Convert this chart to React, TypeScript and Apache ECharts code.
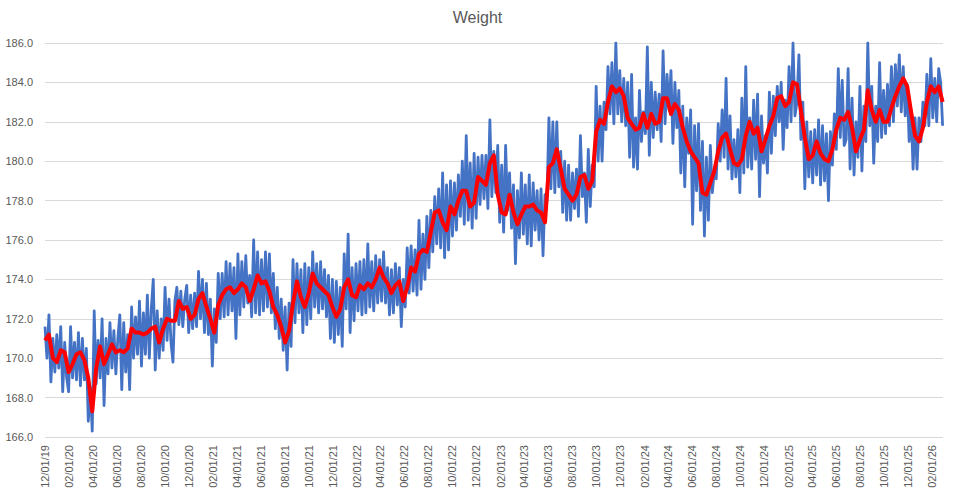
import React, { useEffect, useRef } from "react";
import * as echarts from "echarts";

// Axis: one category per day, 12/01/19 .. 02/28/26
const AXIS_START_UTC = Date.UTC(2019, 11, 1);
const AXIS_DAYS = 2282;
const BLUE_STEP_DAYS = 5;
const RED_STEP_DAYS = 10;
const Y_MIN = 166;
const Y_MAX = 186;
const Y_INTERVAL = 2;

// Daily weight, read every 5 days from 12/01/19
const blueValues = [
  171.6, 170.0, 172.2, 168.8, 171.0, 169.3, 171.2, 169.5, 171.6, 168.3,
  170.8, 169.0, 168.3, 171.6, 169.0, 170.8, 168.9, 171.3, 168.6, 171.0,
  168.9, 170.5, 166.8, 168.5, 166.3, 172.4, 168.7, 170.9, 169.0, 172.0,
  167.6, 171.0, 169.2, 171.8, 169.5, 171.4, 169.2, 171.0, 172.2, 168.4,
  171.8, 169.3, 171.2, 168.4, 172.6, 170.0, 172.1, 170.2, 172.9, 169.6,
  172.3, 170.2, 173.2, 170.0, 172.5, 174.0, 169.4, 172.4, 170.0, 172.0,
  170.4, 173.6, 170.9, 173.0, 170.8, 169.8, 172.9, 173.6, 171.7, 173.4,
  171.6, 173.0, 173.7, 171.3, 173.2, 171.5, 173.3, 171.6, 174.4, 172.0,
  174.0, 171.3, 173.8, 171.2, 173.0, 169.6, 172.5, 170.8, 174.3, 172.0,
  174.3, 172.1, 174.9, 172.2, 174.8, 172.4, 174.6, 171.0, 175.3, 172.2,
  174.9, 172.6, 175.2, 172.8, 174.2, 172.1, 176.0, 172.3, 175.4, 172.2,
  175.0, 172.4, 175.4, 172.6, 175.3, 172.3, 174.3, 171.5, 173.6, 171.0,
  173.0, 170.4, 172.6, 169.4, 172.8, 170.6, 175.0, 171.8, 174.8, 172.3,
  174.5, 171.3, 174.8, 171.7, 174.6, 172.0, 175.4, 172.6, 174.8, 172.3,
  174.9, 172.5, 174.5, 172.1, 174.2, 171.0, 174.0, 170.8, 173.9, 171.2,
  173.6, 170.6, 175.3, 172.5, 176.3, 171.3, 174.6, 171.9, 174.8, 172.4,
  174.9, 172.2, 175.0, 172.3, 175.8, 172.6, 174.9, 172.4, 175.2, 172.8,
  175.0, 172.9, 175.4, 172.8, 174.6, 172.2, 174.5, 172.3, 174.8, 172.7,
  174.6, 171.6, 174.0, 172.6, 175.6, 173.3, 175.7, 173.4, 175.5, 173.2,
  177.0, 173.5, 176.3, 174.0, 177.2, 174.6, 177.5, 175.4, 178.2, 175.8,
  178.6, 175.6, 179.4, 175.1, 178.8, 175.5, 179.0, 176.2, 178.9, 176.5,
  179.3, 177.2, 180.0, 176.8, 181.3, 177.0, 179.9, 176.6, 180.4, 177.1,
  180.2, 177.8, 180.3, 178.1, 180.3, 177.6, 182.1, 178.2, 180.5, 178.4,
  180.8, 176.9, 179.8, 176.4, 180.8, 177.5, 179.4, 176.6, 178.8, 174.8,
  178.5, 176.1, 179.4, 176.3, 178.8, 175.8, 179.3, 175.7, 178.9, 176.5,
  178.5, 176.0, 178.6, 175.2, 178.3, 178.0, 182.2, 178.6, 182.0, 178.4,
  182.0, 178.7, 180.5, 177.4, 180.0, 177.0, 179.8, 177.0, 179.4, 177.6,
  179.6, 177.2, 181.3, 178.2, 179.4, 176.9, 180.6, 177.7, 179.8, 178.7,
  183.8, 180.0, 182.8, 180.0, 183.0, 181.6, 184.8, 182.4, 185.0, 181.9,
  186.0, 182.4, 184.6, 182.0, 184.2, 181.8, 184.0, 180.2, 184.4, 179.7,
  182.2, 179.6, 183.6, 181.0, 182.5, 181.4, 185.8, 180.3, 184.0, 181.2,
  183.5, 181.6, 183.4, 181.0, 185.6, 181.9, 184.4, 182.6, 184.6, 180.9,
  184.0, 181.7, 183.6, 179.4, 182.8, 178.7, 182.2, 180.4, 182.6, 176.8,
  181.8, 178.5, 181.9, 177.5, 181.0, 176.2, 180.2, 177.0, 180.8, 178.4,
  179.5, 179.1, 181.9, 180.0, 182.6, 180.2, 184.2, 179.6, 182.3, 179.1,
  181.1, 179.2, 181.6, 178.4, 183.2, 179.4, 184.8, 179.7, 182.2, 179.6,
  183.1, 180.1, 183.4, 178.2, 182.3, 179.9, 181.3, 179.4, 183.5, 180.4,
  183.3, 181.3, 183.8, 182.0, 184.0, 180.6, 183.1, 181.7, 184.8, 182.0,
  186.0, 182.3, 183.0, 185.4, 181.1, 183.0, 178.6, 182.0, 179.2, 181.5,
  178.9, 181.6, 179.3, 182.1, 178.8, 181.8, 179.0, 181.4, 178.0, 181.5,
  179.8, 182.4, 180.6, 184.7, 181.2, 184.1, 180.8, 181.1, 184.7, 179.6,
  183.2, 179.3, 182.0, 180.2, 183.8, 179.5, 182.8, 181.0, 186.0, 181.8,
  183.8, 179.9, 182.8, 181.0, 185.0, 181.2, 183.6, 181.4, 183.9, 181.8,
  184.8, 182.0, 184.9, 182.8, 185.4, 182.5, 184.8, 182.3, 183.9, 181.0,
  182.6, 179.6, 182.2, 179.6, 182.2, 181.0, 183.0, 181.8, 184.4, 181.8,
  185.2, 182.2, 184.2, 182.0, 184.7, 184.0, 181.8,
];

// Moving average, read every 10 days from 12/01/19
const redValues = [
  170.9, 171.2, 170.0, 169.8, 170.4, 170.3, 169.3, 169.7, 170.2, 170.3,
  169.9, 169.0, 167.3, 169.5, 170.6, 169.7, 170.2, 170.7, 170.3, 170.4,
  170.3, 170.5, 171.5, 171.3, 171.3, 171.2, 171.3, 171.5, 171.6, 170.8,
  171.5, 172.0, 171.9, 171.9, 172.9, 172.5, 172.6, 172.0, 172.2, 173.0,
  173.3, 172.6, 172.0, 171.3, 172.7, 173.2, 173.5, 173.6, 173.3, 173.5,
  173.8, 173.6, 172.9, 173.5, 174.2, 173.8, 173.9, 173.4, 172.6, 172.2,
  171.6, 170.8, 171.4, 172.8, 173.9, 173.1, 172.6, 173.3, 174.3, 173.8,
  173.6, 173.4, 173.2, 172.6, 172.1, 172.5, 173.6, 174.0, 173.2, 173.1,
  173.7, 173.5, 173.8, 173.6, 174.0, 174.6, 174.1, 173.8, 173.3, 173.7,
  173.9, 172.9, 173.6, 174.6, 174.4, 175.3, 175.5, 175.4, 176.4, 177.4,
  177.5, 176.9, 176.5, 177.7, 177.3, 178.0, 178.5, 178.5, 177.7, 177.9,
  179.2, 179.0, 178.8, 179.9, 180.3, 178.3, 177.4, 177.3, 178.3, 177.4,
  176.8, 177.3, 177.7, 177.7, 177.8, 177.5, 177.4, 176.9, 179.7, 179.9,
  180.6, 179.6, 178.6, 178.3, 178.0, 178.3, 179.2, 179.3, 178.6, 179.0,
  181.5, 182.1, 181.9, 183.0, 183.8, 183.5, 183.7, 183.3, 182.2, 181.9,
  181.6, 181.7, 182.4, 181.7, 182.4, 181.9, 182.0, 183.2, 183.2, 182.4,
  182.9, 182.6, 181.7, 181.0, 180.5, 180.2, 179.9, 178.4, 178.3, 178.9,
  179.5, 180.5, 181.2, 181.4, 180.6, 179.9, 179.8, 180.1, 181.3, 182.0,
  181.4, 181.7, 180.5, 181.1, 181.8, 182.3, 183.2, 183.3, 182.8, 183.0,
  184.0, 183.9, 182.6, 181.2, 180.1, 180.3, 181.0, 180.4, 180.1, 180.0,
  180.6, 181.6, 182.2, 182.1, 182.5, 181.7, 180.5, 181.1, 181.6, 183.6,
  182.6, 182.0, 182.6, 182.0, 182.0, 182.7, 183.3, 183.8, 184.2, 183.8,
  182.5, 181.3, 181.0, 181.7, 183.0, 183.8, 183.5, 183.8, 183.0,
];

function fmtDate(t: number): string {
  const d = new Date(t);
  const mm = String(d.getUTCMonth() + 1).padStart(2, "0");
  const dd = String(d.getUTCDate()).padStart(2, "0");
  const yy = String(d.getUTCFullYear() % 100).padStart(2, "0");
  return `${mm}/${dd}/${yy}`;
}

export default function App() {
  const ref = useRef<HTMLDivElement>(null);

  useEffect(() => {
    if (!ref.current) return;
    const chart = echarts.init(ref.current, null, { renderer: "svg" });

    const dates: string[] = [];
    for (let i = 0; i < AXIS_DAYS; i++) {
      dates.push(fmtDate(AXIS_START_UTC + i * 86400000));
    }
    const blue = dates.map((_, i) =>
      i % BLUE_STEP_DAYS === 0 && blueValues[i / BLUE_STEP_DAYS] !== undefined
        ? blueValues[i / BLUE_STEP_DAYS]
        : null
    );
    const red = dates.map((_, i) =>
      i % RED_STEP_DAYS === 0 && redValues[i / RED_STEP_DAYS] !== undefined
        ? redValues[i / RED_STEP_DAYS]
        : null
    );

    const font = "'Liberation Sans', Arial, sans-serif";

    chart.setOption({
      animation: false,
      backgroundColor: "#ffffff",
      title: {
        text: "Weight",
        left: "center",
        top: 4,
        textStyle: {
          fontFamily: font,
          fontSize: 16,
          fontWeight: "normal",
          color: "#595959",
        },
      },
      grid: {
        left: 45,
        right: 12,
        top: 43,
        bottom: 56,
        containLabel: false,
        outerBoundsMode: "none",
      },
      xAxis: {
        type: "category",
        data: dates,
        boundaryGap: false,
        axisLine: { show: false },
        axisTick: { show: false },
        splitLine: { show: false },
        axisLabel: {
          rotate: 90,
          margin: 8,
          fontFamily: font,
          fontSize: 11,
          color: "#595959",
          interval: (_idx: number, value: string) =>
            value.slice(3, 5) === "01" && parseInt(value.slice(0, 2), 10) % 2 === 0,
        },
      },
      yAxis: {
        type: "value",
        min: Y_MIN,
        max: Y_MAX,
        interval: Y_INTERVAL,
        axisLine: { show: false },
        axisTick: { show: false },
        splitLine: { lineStyle: { color: "#d9d9d9", width: 1 } },
        axisLabel: {
          margin: 12,
          fontFamily: font,
          fontSize: 11,
          color: "#595959",
          formatter: (v: number) => v.toFixed(1),
        },
      },
      series: [
        {
          name: "Weight",
          type: "line",
          data: blue,
          connectNulls: true,
          showSymbol: false,
          symbol: "none",
          lineStyle: { color: "#4472C4", width: 2.8, join: "round" },
          itemStyle: { color: "#4472C4" },
          z: 2,
        },
        {
          name: "Average",
          type: "line",
          data: red,
          connectNulls: true,
          showSymbol: false,
          symbol: "none",
          lineStyle: { color: "#FF0000", width: 4, join: "round" },
          itemStyle: { color: "#FF0000" },
          z: 3,
        },
      ],
    });

    return () => chart.dispose();
  }, []);

  return (
    <div
      ref={ref}
      style={{
        position: "fixed",
        left: 0,
        top: 0,
        width: 955,
        height: 493,
        background: "#ffffff",
      }}
    />
  );
}
